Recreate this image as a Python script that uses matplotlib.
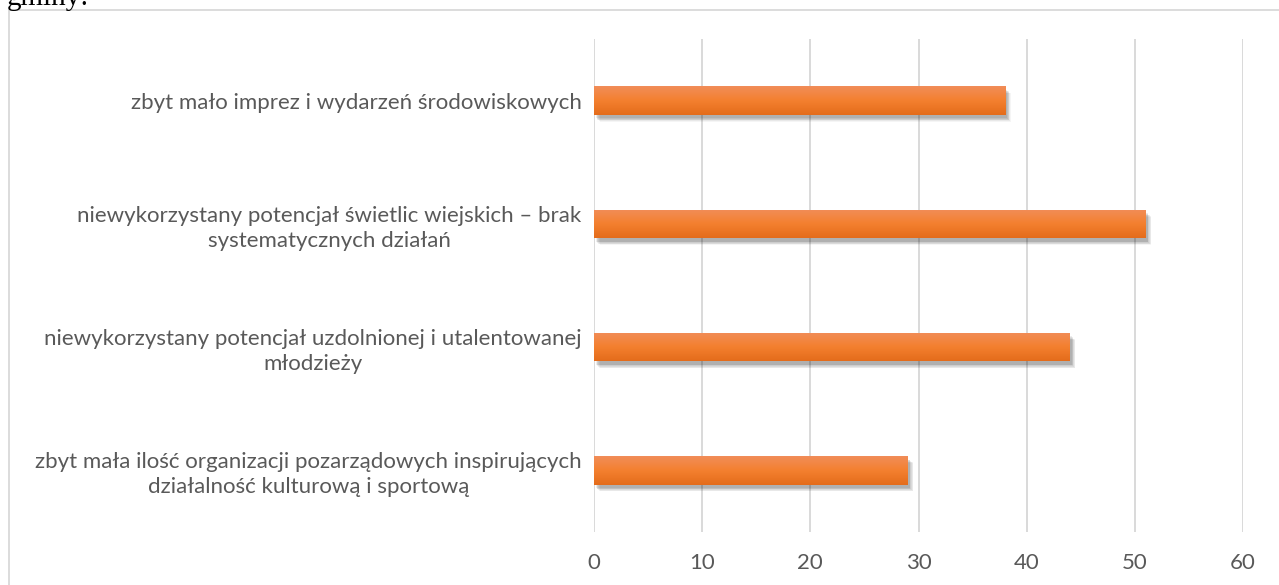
import numpy as np
import matplotlib
matplotlib.use("Agg")
import matplotlib.pyplot as plt
from matplotlib.colors import LinearSegmentedColormap
from matplotlib import patheffects as pe
from matplotlib.patches import Rectangle

categories = [
    "zbyt mało imprez i wydarzeń środowiskowych",
    "niewykorzystany potencjał świetlic wiejskich – brak\nsystematycznych działań",
    "niewykorzystany potencjał uzdolnionej i utalentowanej\nmłodzieży",
    "zbyt mała ilość organizacji pozarządowych inspirujących\ndziałalność kulturową i sportową",
]
values = [38, 51, 44, 29]
xticks = [0, 10, 20, 30, 40, 50, 60]
heading = "gminy:"

TEXT = "#595959"
GRID = "#D9D9D9"
FONT = "Lato"

fig = plt.figure(figsize=(12.79, 5.85), dpi=100)
fig.patch.set_facecolor("white")

# frame of the embedded chart
fig.add_artist(Rectangle((9 / 1279, -0.1), 1.2, 1 - 10 / 585 + 0.1,
                         transform=fig.transFigure, fill=False,
                         edgecolor=GRID, linewidth=1.3))
# cut-off heading from the document above
fig.text(7 / 1279, 1 - 5 / 585, heading, family="Liberation Serif",
         fontsize=21, color="black", ha="left", va="baseline")

ax = fig.add_axes([594 / 1279, 1 - 532 / 585, (1243 - 594) / 1279, (532 - 39) / 585])
y = np.arange(len(categories))
bars = ax.barh(y, values, height=0.23, color="#F07F2F", zorder=3)

cmap = LinearSegmentedColormap.from_list(
    "og", ["#F18D58", "#F4802F", "#E46C1B"])
grad = np.linspace(0, 1, 64).reshape(-1, 1)
shadow = [pe.SimplePatchShadow(offset=(dx, -dy), shadow_rgbFace="black", alpha=a)
          for dx, dy, a in [(4, 5, 0.04), (3.5, 4.5, 0.05), (3, 4, 0.06),
                            (2.5, 3.5, 0.06), (2, 3, 0.07), (1.5, 2.5, 0.07)]]
for b in bars:
    b.set_path_effects(shadow + [pe.Normal()])
    x0, y0 = b.get_x(), b.get_y()
    w, h = b.get_width(), b.get_height()
    im = ax.imshow(grad, extent=[x0, x0 + w, y0 + h, y0], aspect="auto",
                   cmap=cmap, zorder=3.5, interpolation="bilinear")
    im.set_clip_path(b)

ax.set_xlim(0, 60)
ax.set_ylim(len(categories) - 0.5, -0.5)
ax.set_xticks(xticks)
ax.set_xticklabels([str(t) for t in xticks], family=FONT, fontsize=16, color=TEXT)
ax.set_yticks(y)
ax.set_yticklabels(categories, family=FONT, fontsize=16, color=TEXT,
                   multialignment="center", linespacing=1.3)
ax.tick_params(axis="both", length=0)
ax.tick_params(axis="x", pad=15)
ax.tick_params(axis="y", pad=9)
ax.grid(axis="x", color=GRID, linewidth=1.4, zorder=0)
ax.set_axisbelow(True)
for s in ax.spines.values():
    s.set_visible(False)

fig.savefig("out.png", dpi=100, facecolor="white")
